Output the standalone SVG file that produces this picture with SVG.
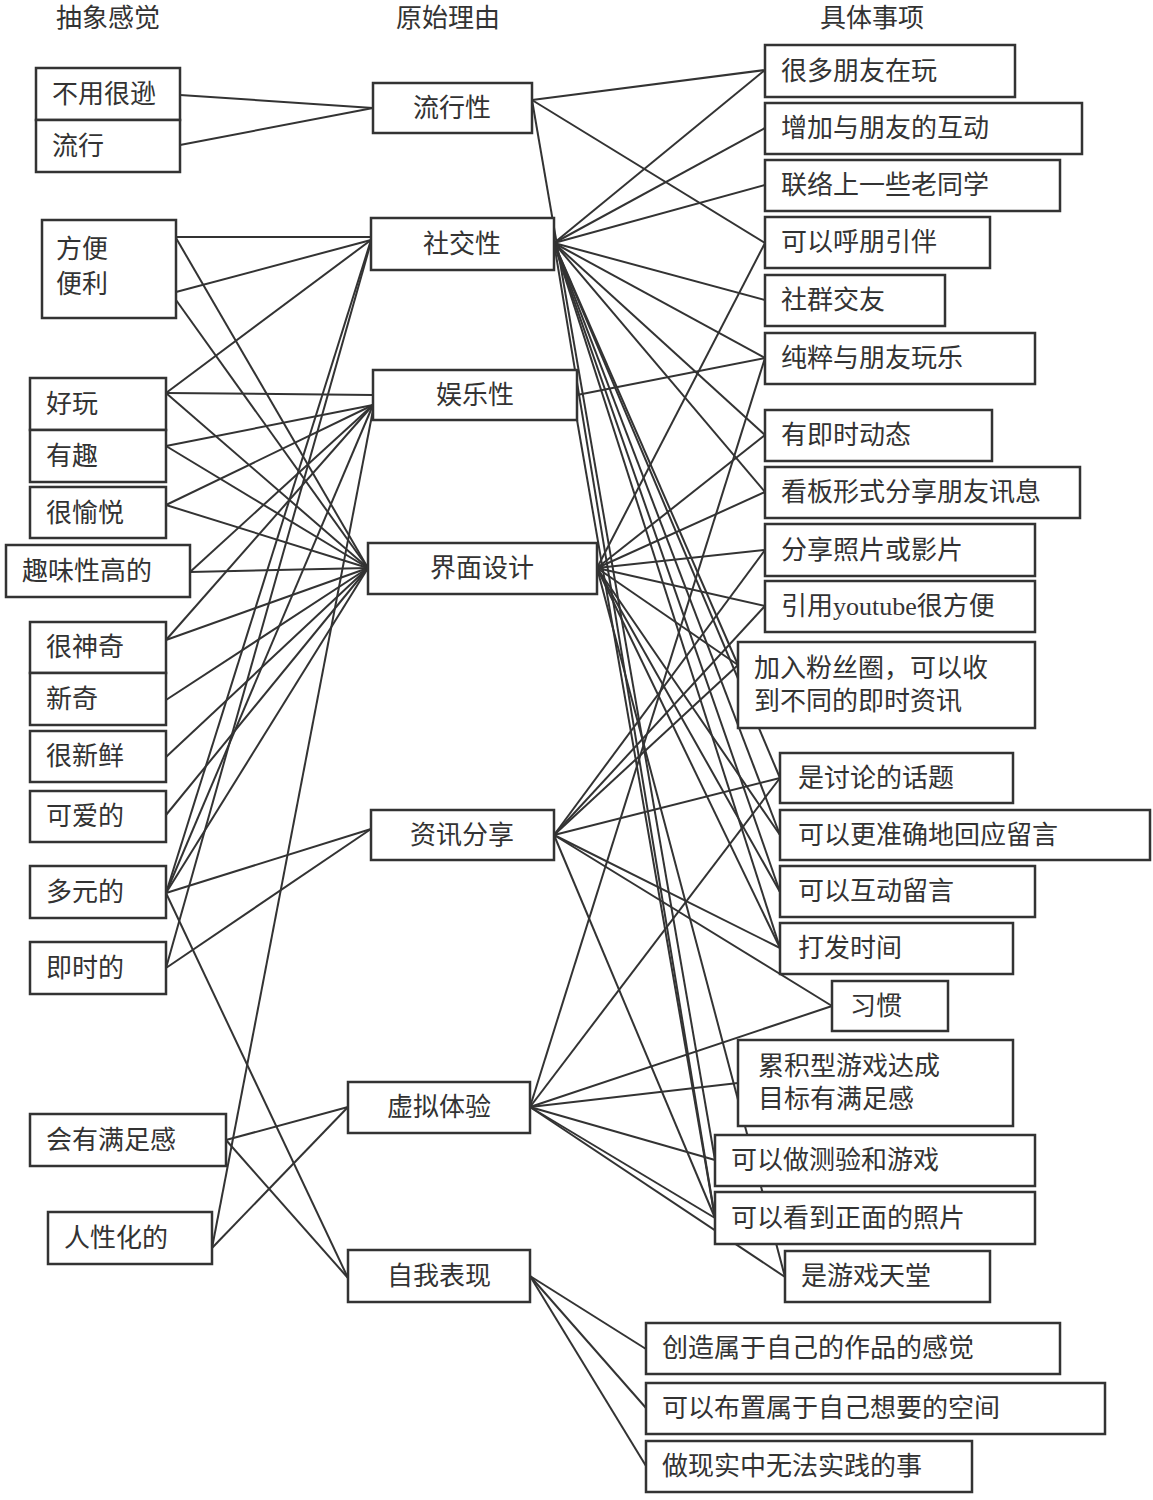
<svg xmlns="http://www.w3.org/2000/svg" width="1153" height="1500" viewBox="0 0 1153 1500">
<style>
rect{fill:#fff;stroke:#333;stroke-width:2.5}
text{font-family:"Liberation Serif","Noto Sans CJK SC",serif;font-size:26px;fill:#333}
.h{text-anchor:middle}
#edges line{stroke:#333;stroke-width:2}
</style>
<rect x="0" y="0" width="1153" height="1500" style="fill:#fff;stroke:none"/>
<text class="h" x="108" y="27">抽象感觉</text>
<text class="h" x="448" y="27">原始理由</text>
<text class="h" x="872" y="27">具体事项</text>
<g id="edges">
<line x1="180" y1="95" x2="373" y2="108"/><line x1="180" y1="145" x2="373" y2="108"/>
<line x1="176" y1="237" x2="371" y2="237"/><line x1="176" y1="238" x2="368" y2="568"/><line x1="176" y1="292" x2="371" y2="240"/><line x1="176" y1="300" x2="368" y2="568"/>
<line x1="166" y1="393" x2="371" y2="240"/><line x1="166" y1="393" x2="373" y2="395"/><line x1="166" y1="393" x2="368" y2="568"/>
<line x1="166" y1="446" x2="373" y2="405"/><line x1="166" y1="446" x2="368" y2="568"/>
<line x1="166" y1="505" x2="373" y2="405"/><line x1="166" y1="505" x2="368" y2="568"/>
<line x1="190" y1="572" x2="373" y2="405"/><line x1="190" y1="572" x2="368" y2="568"/>
<line x1="166" y1="640" x2="373" y2="405"/><line x1="166" y1="640" x2="368" y2="568"/>
<line x1="166" y1="700" x2="368" y2="568"/><line x1="166" y1="757" x2="368" y2="568"/><line x1="166" y1="815" x2="368" y2="568"/>
<line x1="166" y1="893" x2="371" y2="240"/><line x1="166" y1="893" x2="373" y2="405"/><line x1="166" y1="893" x2="368" y2="568"/><line x1="166" y1="893" x2="371" y2="829"/><line x1="166" y1="893" x2="348" y2="1278"/>
<line x1="166" y1="968" x2="371" y2="242"/><line x1="166" y1="968" x2="371" y2="829"/>
<line x1="226" y1="1140" x2="348" y2="1107"/><line x1="226" y1="1140" x2="348" y2="1278"/>
<line x1="212" y1="1248" x2="373" y2="410"/><line x1="212" y1="1248" x2="348" y2="1107"/>
<line x1="532" y1="100" x2="765" y2="70"/><line x1="532" y1="100" x2="765" y2="243"/><line x1="532" y1="100" x2="715" y2="1160"/>
<line x1="554" y1="243" x2="765" y2="70"/><line x1="554" y1="243" x2="765" y2="128"/><line x1="554" y1="243" x2="765" y2="185"/><line x1="554" y1="243" x2="765" y2="300"/><line x1="554" y1="243" x2="765" y2="358"/><line x1="554" y1="243" x2="765" y2="435"/><line x1="554" y1="243" x2="765" y2="492"/><line x1="554" y1="243" x2="738" y2="665"/><line x1="554" y1="243" x2="780" y2="778"/><line x1="554" y1="243" x2="780" y2="835"/><line x1="554" y1="243" x2="780" y2="892"/><line x1="554" y1="243" x2="780" y2="948"/><line x1="554" y1="243" x2="715" y2="1218"/>
<line x1="577" y1="395" x2="765" y2="358"/><line x1="577" y1="420" x2="715" y2="1218"/>
<line x1="597" y1="568" x2="765" y2="243"/><line x1="597" y1="568" x2="765" y2="435"/><line x1="597" y1="568" x2="765" y2="492"/><line x1="597" y1="568" x2="765" y2="550"/><line x1="597" y1="568" x2="765" y2="606"/><line x1="597" y1="568" x2="738" y2="665"/><line x1="597" y1="568" x2="780" y2="835"/><line x1="597" y1="568" x2="780" y2="892"/><line x1="597" y1="568" x2="780" y2="948"/><line x1="597" y1="568" x2="785" y2="1277"/>
<line x1="554" y1="835" x2="765" y2="550"/><line x1="554" y1="835" x2="765" y2="606"/><line x1="554" y1="835" x2="738" y2="665"/><line x1="554" y1="835" x2="780" y2="778"/><line x1="554" y1="835" x2="780" y2="948"/><line x1="554" y1="835" x2="832" y2="1006"/><line x1="554" y1="835" x2="715" y2="1218"/>
<line x1="530" y1="1107" x2="765" y2="358"/><line x1="530" y1="1107" x2="780" y2="778"/><line x1="530" y1="1107" x2="832" y2="1006"/><line x1="530" y1="1107" x2="738" y2="1083"/><line x1="530" y1="1107" x2="715" y2="1160"/><line x1="530" y1="1107" x2="715" y2="1218"/><line x1="530" y1="1107" x2="785" y2="1277"/>
<line x1="530" y1="1276" x2="646" y2="1349"/><line x1="530" y1="1276" x2="646" y2="1408"/><line x1="530" y1="1276" x2="646" y2="1466"/>
</g>
<g id="n1"><rect x="36" y="68" width="144" height="52"/><text x="52" y="103">不用很逊</text></g>
<g id="n2"><rect x="36" y="120" width="144" height="52"/><text x="52" y="155">流行</text></g>
<g id="n3"><rect x="42" y="220" width="134" height="98"/><text x="56" y="258">方便</text><text x="56" y="293">便利</text></g>
<g id="n4"><rect x="30" y="378" width="136" height="52"/><text x="46" y="413">好玩</text></g>
<g id="n5"><rect x="30" y="430" width="136" height="52"/><text x="46" y="465">有趣</text></g>
<g id="n6"><rect x="30" y="487" width="136" height="51"/><text x="46" y="522">很愉悦</text></g>
<g id="n7"><rect x="6" y="545" width="184" height="52"/><text x="22" y="580">趣味性高的</text></g>
<g id="n8"><rect x="30" y="622" width="136" height="51"/><text x="46" y="656">很神奇</text></g>
<g id="n9"><rect x="30" y="673" width="136" height="52"/><text x="46" y="708">新奇</text></g>
<g id="n10"><rect x="30" y="731" width="136" height="51"/><text x="46" y="765">很新鲜</text></g>
<g id="n11"><rect x="30" y="791" width="136" height="51"/><text x="46" y="825">可爱的</text></g>
<g id="n12"><rect x="30" y="866" width="136" height="52"/><text x="46" y="901">多元的</text></g>
<g id="n13"><rect x="30" y="942" width="136" height="52"/><text x="46" y="977">即时的</text></g>
<g id="n14"><rect x="30" y="1114" width="196" height="52"/><text x="46" y="1149">会有满足感</text></g>
<g id="n15"><rect x="48" y="1212" width="164" height="52"/><text x="64" y="1247">人性化的</text></g>
<g id="m1"><rect x="373" y="83" width="159" height="50"/><text class="h" x="452" y="117">流行性</text></g>
<g id="m2"><rect x="371" y="218" width="183" height="52"/><text class="h" x="462" y="253">社交性</text></g>
<g id="m3"><rect x="373" y="370" width="204" height="50"/><text class="h" x="475" y="404">娱乐性</text></g>
<g id="m4"><rect x="368" y="543" width="229" height="51"/><text class="h" x="482" y="577">界面设计</text></g>
<g id="m5"><rect x="371" y="810" width="183" height="50"/><text class="h" x="462" y="844">资讯分享</text></g>
<g id="m6"><rect x="348" y="1082" width="182" height="51"/><text class="h" x="439" y="1116">虚拟体验</text></g>
<g id="m7"><rect x="348" y="1250" width="182" height="52"/><text class="h" x="439" y="1285">自我表现</text></g>
<g id="r1"><rect x="765" y="45" width="250" height="52"/><text x="781" y="80">很多朋友在玩</text></g>
<g id="r2"><rect x="765" y="103" width="317" height="51"/><text x="781" y="137">增加与朋友的互动</text></g>
<g id="r3"><rect x="765" y="160" width="295" height="51"/><text x="781" y="194">联络上一些老同学</text></g>
<g id="r4"><rect x="765" y="217" width="225" height="51"/><text x="781" y="251">可以呼朋引伴</text></g>
<g id="r5"><rect x="765" y="275" width="180" height="51"/><text x="781" y="309">社群交友</text></g>
<g id="r6"><rect x="765" y="333" width="270" height="51"/><text x="781" y="367">纯粹与朋友玩乐</text></g>
<g id="r7"><rect x="765" y="410" width="227" height="51"/><text x="781" y="444">有即时动态</text></g>
<g id="r8"><rect x="765" y="467" width="315" height="51"/><text x="781" y="501">看板形式分享朋友讯息</text></g>
<g id="r9"><rect x="765" y="524" width="270" height="52"/><text x="781" y="559">分享照片或影片</text></g>
<g id="r10"><rect x="765" y="581" width="270" height="51"/><text x="781" y="615">引用youtube很方便</text></g>
<g id="r11"><rect x="738" y="642" width="297" height="86"/><text x="754" y="677">加入粉丝圈，可以收</text><text x="754" y="710">到不同的即时资讯</text></g>
<g id="r12"><rect x="780" y="753" width="233" height="50"/><text x="798" y="787">是讨论的话题</text></g>
<g id="r13"><rect x="780" y="810" width="370" height="50"/><text x="798" y="844">可以更准确地回应留言</text></g>
<g id="r14"><rect x="780" y="866" width="255" height="51"/><text x="798" y="900">可以互动留言</text></g>
<g id="r15"><rect x="780" y="923" width="233" height="51"/><text x="798" y="957">打发时间</text></g>
<g id="r16"><rect x="832" y="981" width="116" height="50"/><text x="850" y="1015">习惯</text></g>
<g id="r17"><rect x="738" y="1040" width="275" height="86"/><text x="758" y="1075">累积型游戏达成</text><text x="758" y="1108">目标有满足感</text></g>
<g id="r18"><rect x="715" y="1135" width="320" height="51"/><text x="731" y="1169">可以做测验和游戏</text></g>
<g id="r19"><rect x="715" y="1192" width="320" height="52"/><text x="731" y="1227">可以看到正面的照片</text></g>
<g id="r20"><rect x="785" y="1251" width="205" height="51"/><text x="801" y="1285">是游戏天堂</text></g>
<g id="r21"><rect x="646" y="1323" width="414" height="51"/><text x="662" y="1357">创造属于自己的作品的感觉</text></g>
<g id="r22"><rect x="646" y="1383" width="459" height="51"/><text x="662" y="1417">可以布置属于自己想要的空间</text></g>
<g id="r23"><rect x="646" y="1441" width="326" height="51"/><text x="662" y="1475">做现实中无法实践的事</text></g>
</svg>
